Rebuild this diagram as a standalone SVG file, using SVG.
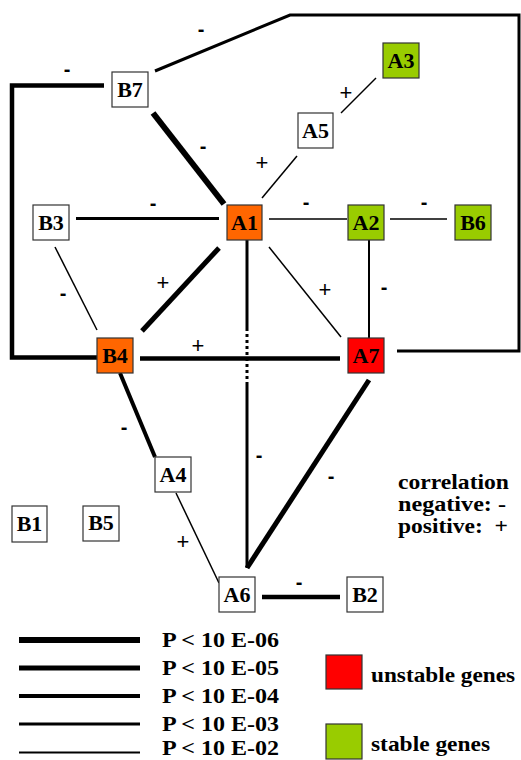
<svg xmlns="http://www.w3.org/2000/svg" width="521" height="760" viewBox="0 0 521 760">
<style>
.box{stroke:#333;stroke-width:1.2}
.w{fill:#fff}
.or{fill:#ff6600}
.rd{fill:#ff0000}
.gr{fill:#99cc00}
.lbl{font-family:"Liberation Serif","Times New Roman",serif;font-weight:bold;font-size:22px;fill:#000;text-anchor:middle}
.sg{font-family:"Liberation Sans",Arial,sans-serif;font-size:22px;fill:#000;text-anchor:middle}
.sgb{font-family:"Liberation Sans",Arial,sans-serif;font-size:20px;font-weight:bold;fill:#000;text-anchor:middle}
.lg{font-family:"Liberation Serif","Times New Roman",serif;font-weight:bold;font-size:21px;fill:#000}
.e{stroke:#000;fill:none;stroke-linecap:butt;stroke-linejoin:miter}
</style>
<rect width="521" height="760" fill="#fff"/>
<g id="connectors">
<polyline class="e" stroke-width="4.5" points="104,85.5 12,85.5 12,357.5 97,357.5"/>
<polyline class="e" stroke-width="3" points="155,71 290,15 519,15 519,351 397,351"/>
<line class="e" stroke-width="6" x1="153" y1="113" x2="224" y2="204"/>
<line class="e" stroke-width="1.5" x1="341" y1="113" x2="376" y2="78"/>
<line class="e" stroke-width="1.5" x1="262" y1="198" x2="297" y2="156"/>
<line class="e" stroke-width="3" x1="76" y1="218.5" x2="219" y2="218.5"/>
<line class="e" stroke-width="1.5" x1="269" y1="219" x2="347" y2="219"/>
<line class="e" stroke-width="1.5" x1="390" y1="219" x2="447" y2="219"/>
<line class="e" stroke-width="2" x1="369" y1="240" x2="369" y2="338"/>
<line class="e" stroke-width="1.5" x1="269" y1="247" x2="341" y2="337"/>
<line class="e" stroke-width="1.5" x1="55" y1="247" x2="97" y2="330"/>
<line class="e" stroke-width="5" x1="219" y1="248" x2="142" y2="331"/>
<line class="e" stroke-width="4.5" x1="140" y1="358.5" x2="340" y2="358.5"/>
<line class="e" stroke-width="3" x1="247" y1="240" x2="247" y2="328"/>
<line class="e" stroke-width="3" stroke-dasharray="3,3" x1="247" y1="328" x2="247" y2="385"/>
<line class="e" stroke-width="3" x1="247" y1="385" x2="247" y2="568"/>
<line class="e" stroke-width="5" x1="369" y1="380" x2="247" y2="568"/>
<line class="e" stroke-width="4" x1="120" y1="373" x2="155" y2="457"/>
<line class="e" stroke-width="1.5" x1="176" y1="493" x2="219" y2="583"/>
<line class="e" stroke-width="4.5" x1="262" y1="597" x2="340" y2="597"/>
</g>
<g id="signs">
<text class="sgb" x="67" y="76">-</text>
<text class="sgb" x="201" y="36">-</text>
<text class="sgb" x="203" y="153">-</text>
<text class="sg" x="262" y="170">+</text>
<text class="sg" x="346" y="100">+</text>
<text class="sgb" x="153" y="210">-</text>
<text class="sgb" x="306" y="209">-</text>
<text class="sgb" x="424" y="209">-</text>
<text class="sg" x="163" y="290">+</text>
<text class="sgb" x="63" y="300">-</text>
<text class="sg" x="325" y="297">+</text>
<text class="sgb" x="384" y="294">-</text>
<text class="sg" x="198" y="353">+</text>
<text class="sgb" x="124" y="434">-</text>
<text class="sgb" x="259" y="462">-</text>
<text class="sgb" x="331" y="483">-</text>
<text class="sg" x="183" y="549">+</text>
<text class="sgb" x="299" y="589">-</text>
</g>
<g id="B7"><rect class="box w" x="112" y="72" width="36" height="35"/><text class="lbl" x="130" y="97">B7</text></g>
<g id="A3"><rect class="box gr" x="383" y="43" width="36" height="35"/><text class="lbl" x="401" y="68">A3</text></g>
<g id="A5"><rect class="box w" x="298" y="113" width="35" height="35"/><text class="lbl" x="315.5" y="138">A5</text></g>
<g id="B3"><rect class="box w" x="33" y="205" width="36" height="35"/><text class="lbl" x="51" y="230">B3</text></g>
<g id="A1"><rect class="box or" x="227" y="205" width="35" height="35"/><text class="lbl" x="244.5" y="230">A1</text></g>
<g id="A2"><rect class="box gr" x="348" y="205" width="36" height="35"/><text class="lbl" x="366" y="230">A2</text></g>
<g id="B6"><rect class="box gr" x="455" y="205" width="36" height="35"/><text class="lbl" x="473" y="230">B6</text></g>
<g id="B4"><rect class="box or" x="97" y="338" width="36" height="35"/><text class="lbl" x="115" y="363">B4</text></g>
<g id="A7"><rect class="box rd" x="348" y="338" width="36" height="35"/><text class="lbl" x="366" y="363">A7</text></g>
<g id="A4"><rect class="box w" x="155" y="457" width="36" height="35"/><text class="lbl" x="173" y="482">A4</text></g>
<g id="B1"><rect class="box w" x="12" y="506" width="35" height="36"/><text class="lbl" x="29.5" y="531">B1</text></g>
<g id="B5"><rect class="box w" x="83" y="506" width="36" height="35"/><text class="lbl" x="101" y="530">B5</text></g>
<g id="A6"><rect class="box w" x="219" y="577" width="36" height="35"/><text class="lbl" x="237" y="602">A6</text></g>
<g id="B2"><rect class="box w" x="347" y="577" width="36" height="35"/><text class="lbl" x="365" y="602">B2</text></g>
<g id="legend">
<text class="lg" x="398" y="489" textLength="111" lengthAdjust="spacingAndGlyphs">correlation</text>
<text class="lg" x="398" y="511" textLength="108" lengthAdjust="spacingAndGlyphs">negative: -</text>
<text class="lg" x="398" y="533" textLength="110" lengthAdjust="spacingAndGlyphs" xml:space="preserve">positive:  +</text>
<line class="e" stroke-width="6" x1="19" y1="640" x2="140" y2="640"/>
<line class="e" stroke-width="5" x1="19" y1="668" x2="140" y2="668"/>
<line class="e" stroke-width="4" x1="19" y1="696" x2="140" y2="696"/>
<line class="e" stroke-width="3" x1="19" y1="724" x2="140" y2="724"/>
<line class="e" stroke-width="2" x1="19" y1="752.5" x2="140" y2="752.5"/>
<text class="lg" x="162" y="647" textLength="117" lengthAdjust="spacingAndGlyphs">P &lt; 10 E-06</text>
<text class="lg" x="162" y="675" textLength="117" lengthAdjust="spacingAndGlyphs">P &lt; 10 E-05</text>
<text class="lg" x="162" y="703" textLength="117" lengthAdjust="spacingAndGlyphs">P &lt; 10 E-04</text>
<text class="lg" x="162" y="731" textLength="117" lengthAdjust="spacingAndGlyphs">P &lt; 10 E-03</text>
<text class="lg" x="162" y="755" textLength="117" lengthAdjust="spacingAndGlyphs">P &lt; 10 E-02</text>
<rect class="box rd" x="326" y="655" width="36" height="34"/>
<rect class="box gr" x="326" y="724" width="36" height="35"/>
<text class="lg" x="371" y="682" textLength="144" lengthAdjust="spacingAndGlyphs">unstable genes</text>
<text class="lg" x="371" y="751" textLength="119" lengthAdjust="spacingAndGlyphs">stable genes</text>
</g>
</svg>
